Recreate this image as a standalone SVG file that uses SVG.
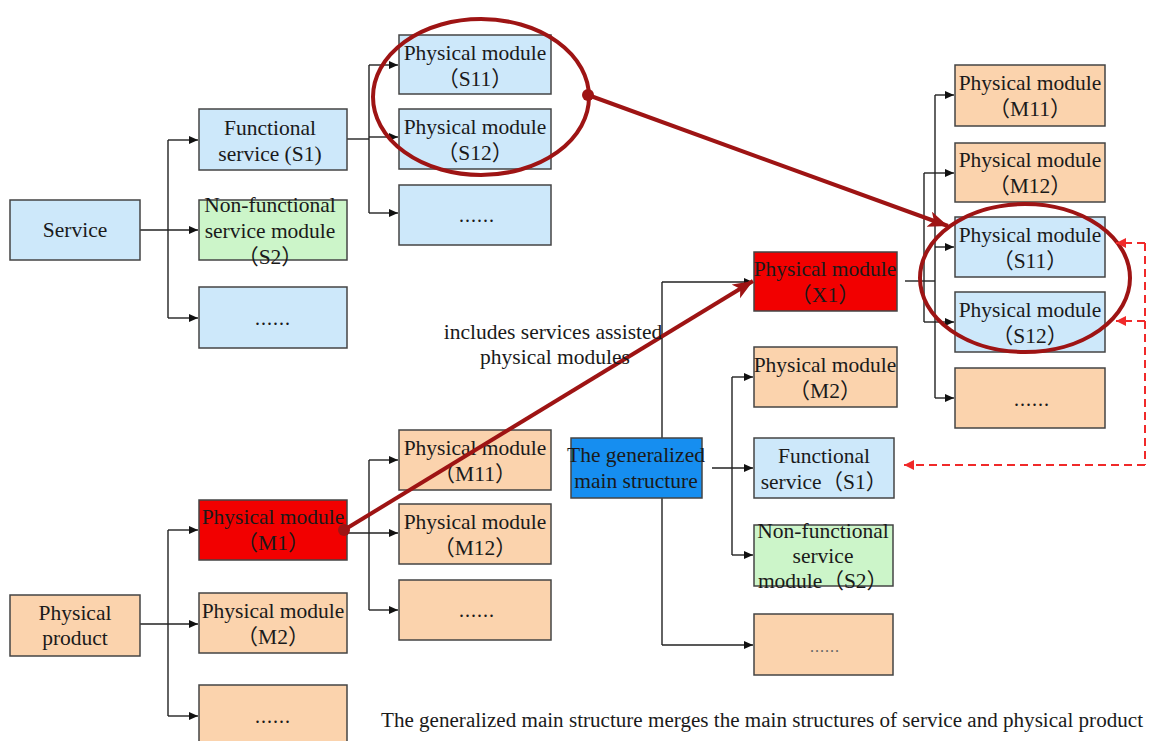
<svg xmlns="http://www.w3.org/2000/svg" width="1150" height="741" viewBox="0 0 1150 741">
  <style>
    .box { stroke: #444; stroke-width: 1.5; }
    .blue { fill: #cde8fa; }
    .peach { fill: #fbd3ad; }
    .green { fill: #ccf5c9; }
    .red { fill: #f20000; }
    .azure { fill: #168ef0; }
    .t { font-family: "Liberation Serif", "Noto Sans CJK SC", serif; font-size: 21.5px; fill: #1a1a1a; text-anchor: middle; }
    .dots { letter-spacing: 1px; font-size: 20px; }
    .wire { fill: none; stroke: #222; stroke-width: 1.4; }
    .link { fill: none; stroke: #9e1414; stroke-width: 4; }
    .dash { fill: none; stroke: #f02a2a; stroke-width: 2; stroke-dasharray: 8 5; }
    .ring { fill: none; stroke: #9e1414; stroke-width: 4; }
    .cap { font-family: "Liberation Serif", serif; font-size: 20.5px; fill: #1a1a1a; }
  </style>
  <defs>
    <marker id="ah" markerUnits="userSpaceOnUse" markerWidth="10" markerHeight="10" refX="9" refY="4" orient="auto">
      <path d="M0,0 L9,4 L0,8 Z" fill="#111"/>
    </marker>
    <marker id="big" markerUnits="userSpaceOnUse" markerWidth="22" markerHeight="18" refX="20" refY="8" orient="auto">
      <path d="M0,0 L20,8 L0,16 L5,8 Z" fill="#9e1414"/>
    </marker>
    <marker id="rah" markerUnits="userSpaceOnUse" markerWidth="12" markerHeight="12" refX="10" refY="5" orient="auto">
      <path d="M0,0 L10,5 L0,10 Z" fill="#f02a2a"/>
    </marker>
  </defs>

  <rect width="1150" height="741" fill="#fff"/>

  <!-- tree connectors -->
  <g id="connectors">
    <!-- service tree -->
    <path class="wire" d="M168,140 V318"/>
    <path class="wire" d="M168,140 H198" marker-end="url(#ah)"/>
    <path class="wire" d="M140,230 H198" marker-end="url(#ah)"/>
    <path class="wire" d="M168,318 H198" marker-end="url(#ah)"/>
    <path class="wire" d="M347,139 H369"/>
    <path class="wire" d="M369,65 V213"/>
    <path class="wire" d="M369,65 H398" marker-end="url(#ah)"/>
    <path class="wire" d="M369,137 H398" marker-end="url(#ah)"/>
    <path class="wire" d="M369,213 H398" marker-end="url(#ah)"/>
    <!-- product tree -->
    <path class="wire" d="M168,530 V716"/>
    <path class="wire" d="M168,530 H198" marker-end="url(#ah)"/>
    <path class="wire" d="M140,624 H198" marker-end="url(#ah)"/>
    <path class="wire" d="M168,716 H198" marker-end="url(#ah)"/>
    <path class="wire" d="M369,460 V610"/>
    <path class="wire" d="M369,460 H398" marker-end="url(#ah)"/>
    <path class="wire" d="M347,533 H398" marker-end="url(#ah)"/>
    <path class="wire" d="M369,610 H398" marker-end="url(#ah)"/>
    <!-- generalized structure -->
    <path class="wire" d="M662,282 V645"/>
    <path class="wire" d="M662,282 H753" marker-end="url(#ah)"/>
    <path class="wire" d="M662,645 H753" marker-end="url(#ah)"/>
    <path class="wire" d="M732,377 V555"/>
    <path class="wire" d="M732,377 H753" marker-end="url(#ah)"/>
    <path class="wire" d="M712,468 H753" marker-end="url(#ah)"/>
    <path class="wire" d="M732,555 H753" marker-end="url(#ah)"/>
    <!-- X1 subtree -->
    <path class="wire" d="M905,281 H935"/>
    <path class="wire" d="M935,95 V398"/>
    <path class="wire" d="M924,173 V322"/>
    <path class="wire" d="M935,95 H954" marker-end="url(#ah)"/>
    <path class="wire" d="M924,173 H954" marker-end="url(#ah)"/>
    <path class="wire" d="M935,247 H954" marker-end="url(#ah)"/>
    <path class="wire" d="M924,322 H954" marker-end="url(#ah)"/>
    <path class="wire" d="M935,398 H954" marker-end="url(#ah)"/>
  </g>

  <!-- nodes -->
  <g id="n-service"><rect class="box blue" x="10" y="200" width="130" height="60"/><text class="t" x="75" y="237">Service</text></g>
  <g id="n-fs1"><rect class="box blue" x="199" y="109" width="148" height="61"/><text class="t" x="270" y="135">Functional</text><text class="t" x="270" y="161">service (S1)</text></g>
  <g id="n-nfs2"><rect class="box green" x="199" y="200" width="148" height="60"/><text class="t" x="270" y="212">Non-functional</text><text class="t" x="270" y="238">service module</text><text class="t" x="270" y="264">（S2）</text></g>
  <g id="n-sdots"><rect class="box blue" x="199" y="287" width="148" height="61"/><text class="t dots" x="273" y="325">......</text></g>

  <g id="n-s11"><rect class="box blue" x="399" y="35" width="152" height="59"/><text class="t" x="475" y="60">Physical module</text><text class="t" x="475" y="86">（S11）</text></g>
  <g id="n-s12"><rect class="box blue" x="399" y="109" width="152" height="60"/><text class="t" x="475" y="134">Physical module</text><text class="t" x="475" y="160">（S12）</text></g>
  <g id="n-s1dots"><rect class="box blue" x="399" y="185" width="152" height="60"/><text class="t dots" x="477" y="222">......</text></g>

  <g id="n-product"><rect class="box peach" x="10" y="595" width="130" height="61"/><text class="t" x="75" y="620">Physical</text><text class="t" x="75" y="645">product</text></g>
  <g id="n-m1"><rect class="box red" x="199" y="500" width="148" height="60"/><text class="t" x="273" y="524">Physical module</text><text class="t" x="273" y="550">（M1）</text></g>
  <g id="n-m2"><rect class="box peach" x="199" y="593" width="148" height="60"/><text class="t" x="273" y="618">Physical module</text><text class="t" x="273" y="644">（M2）</text></g>
  <g id="n-pdots"><rect class="box peach" x="199" y="685" width="148" height="62"/><text class="t dots" x="273" y="723">......</text></g>

  <g id="n-m11"><rect class="box peach" x="399" y="430" width="152" height="60"/><text class="t" x="475" y="455">Physical module</text><text class="t" x="475" y="481">（M11）</text></g>
  <g id="n-m12"><rect class="box peach" x="399" y="504" width="152" height="60"/><text class="t" x="475" y="529">Physical module</text><text class="t" x="475" y="555">（M12）</text></g>
  <g id="n-m1dots"><rect class="box peach" x="399" y="580" width="152" height="60"/><text class="t dots" x="477" y="617">......</text></g>

  <g id="n-general"><rect class="box azure" x="571" y="438" width="131" height="60"/><text class="t" x="636" y="462">The generalized</text><text class="t" x="636" y="488">main structure</text></g>

  <g id="n-x1"><rect class="box red" x="754" y="252" width="143" height="59"/><text class="t" x="825" y="276">Physical module</text><text class="t" x="825" y="302">（X1）</text></g>
  <g id="n-gm2"><rect class="box peach" x="754" y="347" width="143" height="60"/><text class="t" x="825" y="372">Physical module</text><text class="t" x="825" y="398">（M2）</text></g>
  <g id="n-gs1"><rect class="box blue" x="754" y="438" width="140" height="60"/><text class="t" x="824" y="463">Functional</text><text class="t" x="824" y="489">service（S1）</text></g>
  <g id="n-gs2"><rect class="box green" x="754" y="525" width="139" height="61"/><text class="t" x="823" y="538">Non-functional</text><text class="t" x="823" y="563">service</text><text class="t" x="823" y="588">module（S2）</text></g>
  <g id="n-gdots"><rect class="box peach" x="754" y="614" width="139" height="61"/><text class="t dots" x="825" y="652" style="font-size:16px;fill:#666">......</text></g>

  <g id="n-xm11"><rect class="box peach" x="955" y="65" width="150" height="61"/><text class="t" x="1030" y="90">Physical module</text><text class="t" x="1030" y="116">（M11）</text></g>
  <g id="n-xm12"><rect class="box peach" x="955" y="143" width="150" height="59"/><text class="t" x="1030" y="167">Physical module</text><text class="t" x="1030" y="193">（M12）</text></g>
  <g id="n-xs11"><rect class="box blue" x="955" y="217" width="150" height="60"/><text class="t" x="1030" y="242">Physical module</text><text class="t" x="1030" y="268">（S11）</text></g>
  <g id="n-xs12"><rect class="box blue" x="955" y="292" width="150" height="60"/><text class="t" x="1030" y="317">Physical module</text><text class="t" x="1030" y="343">（S12）</text></g>
  <g id="n-xdots"><rect class="box peach" x="955" y="368" width="150" height="60"/><text class="t dots" x="1032" y="406">......</text></g>

  <!-- highlight rings, merge arrows and dashed references -->
  <g id="highlights">
    <ellipse class="ring" cx="481" cy="97" rx="108" ry="78"/>
    <ellipse class="ring" cx="1025" cy="278" rx="105" ry="74"/>
    <path class="link" d="M588,95 L948,226" marker-end="url(#big)"/>
    <circle cx="588" cy="95" r="6" fill="#9e1414"/>
    <path class="link" d="M344,530 L753,281" marker-end="url(#big)"/>
    <circle cx="344" cy="530" r="6" fill="#9e1414"/>
    <path class="dash" d="M1145,243 V465"/>
    <path class="dash" d="M1145,243 H1116" marker-end="url(#rah)"/>
    <path class="dash" d="M1145,321 H1116" marker-end="url(#rah)"/>
    <path class="dash" d="M1145,465 H904" marker-end="url(#rah)"/>
  </g>

  <g id="labels">
    <text class="t" x="553" y="339">includes services assisted</text>
    <text class="t" x="555" y="364">physical modules</text>
    <text class="cap" x="381" y="727" textLength="762" lengthAdjust="spacingAndGlyphs">The generalized main structure merges the main structures of service and physical product</text>
  </g>
</svg>
